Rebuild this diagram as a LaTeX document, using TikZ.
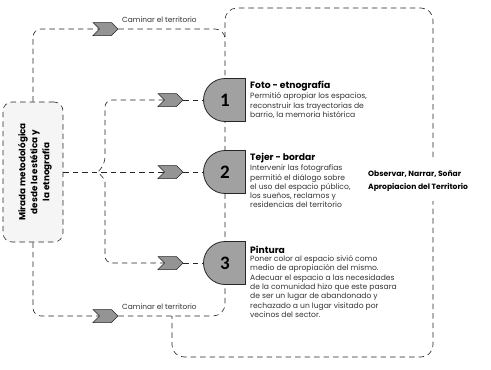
\documentclass[tikz,border=0pt]{standalone}
\usepackage{fontspec}
\setmainfont{Poppins}
\newfontfamily\numfont{Carlito}
\usetikzlibrary{shapes.symbols,shapes.misc,positioning}

\begin{document}
\begin{tikzpicture}[x=1pt, y=-1pt,
    linea/.style={dash pattern=on 5.5pt off 4pt, line width=0.6pt, black!85},
    flecha/.style={signal, signal to=east, signal from=west, fill=black!42, draw=black!85,
        line width=0.5pt, minimum width=25pt, minimum height=13pt, inner sep=0pt},
    paso/.style={rounded rectangle, rounded rectangle right arc=none, fill=black!37,
        draw=black!85, line width=0.8pt, minimum width=38pt, minimum height=43pt,
        inner sep=0pt, font=\numfont\bfseries\fontsize{19}{19}\selectfont},
    titulo/.style={anchor=west, inner sep=0pt, font=\bfseries\fontsize{9.2}{10}\selectfont},
    cuerpo/.style={inner sep=0pt, align=left, text=black!80, font=\fontsize{7.6}{9.3}\selectfont},
    camino/.style={anchor=west, inner sep=0pt, text=black!80, font=\fontsize{7.4}{8}\selectfont}]

    \useasboundingbox (0,0) rectangle (491,370);

    % caja de la izquierda
    \node[draw, linea, fill=black!4, rounded corners=9pt, minimum width=60pt, minimum height=140pt] (mirada) at (33,172) {};
    \node[rotate=90, align=center, font=\bfseries\fontsize{8.8}{12}\selectfont] (miradatxt) at ([xshift=2pt]mirada.center) {Mirada metodológica\\desde la estética y\\la etnografía};

    % flechas
    \node[flecha] (cam1) at (105.5,29) {};
    \node[flecha] (cam2) at (105.5,316) {};
    \node[flecha] (a1) at (170.5,100) {};
    \node[flecha] (a2) at (170.5,172) {};
    \node[flecha] (a3) at (170.5,263) {};
    \node[camino] (cam1txt) at (122,20) {Caminar el territorio};
    \node[camino] (cam2txt) at (122,307) {Caminar el territorio};

    % marco grande
    \coordinate (marco) at (225,39);
    \coordinate (esq) at (172,316);
    \draw[linea, rounded corners=12pt] (cam2.east) -- (225,316) -- (225,8) -- (433,8) -- (433,357) -- (172,357) -- (esq);
    \draw[linea, rounded corners=10pt] (cam1.east) -| (marco);
    \draw[linea, rounded corners=8pt] (mirada.north) |- (cam1.west);
    \draw[linea, rounded corners=8pt] (mirada.south) |- (cam2.west);

    % llave
    \coordinate (llave) at (98,172);
    \draw[linea, rounded corners=7pt] (a1.west) -| (105,164) [sharp corners] -- (llave) -- (105,180) [rounded corners=7pt] |- (a3.west);
    \draw[linea] (mirada.east) -- (a2.west);

    % pasos
    \node[paso] (n1) at (225,100) {1};
    \node[paso] (n2) at (225,172) {2};
    \node[paso] (n3) at (225,263) {3};
    \draw[linea] (a1.east) -- (n1.west);
    \draw[linea] (a2.east) -- (n2.west);
    \draw[linea] (a3.east) -- (n3.west);

    % textos
    \node[titulo] (t1) at (250,86) {Foto - etnografía};
    \node[cuerpo, below right=1.5pt and 0pt of t1.south west] (c1) {Permitió apropiar los espacios,\\reconstruir las trayectorias de\\barrio, la memoria histórica};
    \node[titulo] (t2) at (250,158) {Tejer - bordar};
    \node[cuerpo, below right=1.5pt and 0pt of t2.south west] (c2) {Intervenir las fotografías\\permitió el diálogo sobre\\el uso del espacio público,\\los sueños, reclamos y\\residencias del territorio};
    \node[titulo] (t3) at (250,250) {Pintura};
    \node[cuerpo, below right=1.5pt and 0pt of t3.south west] (c3) {Poner color al espacio sivió como\\medio de apropiación del mismo.\\Adecuar el espacio a las necesidades\\de la comunidad hizo que este pasara\\de ser un lugar de abandonado y\\rechazado a un lugar visitado por\\vecinos del sector.};

    \node[fill=white, anchor=west, inner xsep=0pt, inner ysep=10pt, align=left, font=\bfseries\fontsize{7.6}{12.5}\selectfont] (obs) at (368,181) {Observar, Narrar, Soñar\\Apropiacion del Territorio};
\end{tikzpicture}
\end{document}
